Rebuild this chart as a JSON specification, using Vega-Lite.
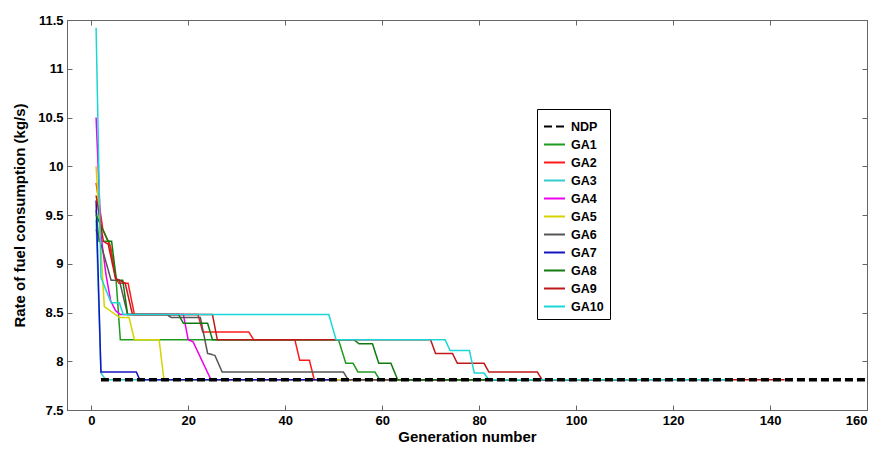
{
  "$schema": "https://vega.github.io/schema/vega-lite/v6.json",
  "autosize": "none",
  "width": 800,
  "height": 390,
  "padding": {"left": 67, "top": 20, "right": 9, "bottom": 41},
  "background": "white",
  "config": {
    "font": "Liberation Sans",
    "view": {"stroke": "#666666", "strokeWidth": 1},
    "axis": {
      "grid": false,
      "domainColor": "#666666",
      "tickColor": "#666666",
      "tickSize": -5,
      "labelFont": "Liberation Sans",
      "labelFontWeight": "bold",
      "labelFontSize": 13,
      "labelColor": "black",
      "titleFont": "Liberation Sans",
      "titleFontWeight": "bold",
      "titleFontSize": 15,
      "titleColor": "black"
    },
    "legend": {
      "orient": "none",
      "legendX": 470,
      "legendY": 89,
      "strokeColor": "black",
      "fillColor": "white",
      "padding": 6,
      "labelFont": "Liberation Sans",
      "labelFontWeight": "bold",
      "labelFontSize": 12.5,
      "labelColor": "black",
      "symbolType": "stroke",
      "symbolSize": 440,
      "symbolStrokeWidth": 2,
      "rowPadding": 0,
      "labelOffset": 5
    }
  },
  "data": {
    "values": [
      {"series": "GA1", "gen": 1, "fuel": 9.55},
      {"series": "GA1", "gen": 1.6, "fuel": 9.23},
      {"series": "GA1", "gen": 3.7, "fuel": 9.23},
      {"series": "GA1", "gen": 5.1, "fuel": 8.85},
      {"series": "GA1", "gen": 6, "fuel": 8.22},
      {"series": "GA1", "gen": 51, "fuel": 8.22},
      {"series": "GA1", "gen": 52.5, "fuel": 7.98},
      {"series": "GA1", "gen": 54, "fuel": 7.98},
      {"series": "GA1", "gen": 55, "fuel": 7.89},
      {"series": "GA1", "gen": 58.5, "fuel": 7.89},
      {"series": "GA1", "gen": 59.5, "fuel": 7.81},
      {"series": "GA1", "gen": 110, "fuel": 7.81},

      {"series": "GA2", "gen": 1, "fuel": 9.83},
      {"series": "GA2", "gen": 2.4, "fuel": 9.35},
      {"series": "GA2", "gen": 4, "fuel": 9.17},
      {"series": "GA2", "gen": 5, "fuel": 8.86},
      {"series": "GA2", "gen": 5.7, "fuel": 8.8},
      {"series": "GA2", "gen": 7.6, "fuel": 8.8},
      {"series": "GA2", "gen": 8.9, "fuel": 8.48},
      {"series": "GA2", "gen": 22, "fuel": 8.48},
      {"series": "GA2", "gen": 23, "fuel": 8.3},
      {"series": "GA2", "gen": 32.5, "fuel": 8.3},
      {"series": "GA2", "gen": 33.5, "fuel": 8.22},
      {"series": "GA2", "gen": 42, "fuel": 8.22},
      {"series": "GA2", "gen": 43, "fuel": 8.01},
      {"series": "GA2", "gen": 45, "fuel": 8.01},
      {"series": "GA2", "gen": 46, "fuel": 7.81},
      {"series": "GA2", "gen": 96, "fuel": 7.81},

      {"series": "GA3", "gen": 1, "fuel": 9.45},
      {"series": "GA3", "gen": 2, "fuel": 7.88},
      {"series": "GA3", "gen": 3, "fuel": 7.81},
      {"series": "GA3", "gen": 53, "fuel": 7.81},

      {"series": "GA4", "gen": 1, "fuel": 10.5},
      {"series": "GA4", "gen": 2, "fuel": 9.3},
      {"series": "GA4", "gen": 3, "fuel": 8.9},
      {"series": "GA4", "gen": 4, "fuel": 8.62},
      {"series": "GA4", "gen": 5, "fuel": 8.52},
      {"series": "GA4", "gen": 6, "fuel": 8.48},
      {"series": "GA4", "gen": 19, "fuel": 8.48},
      {"series": "GA4", "gen": 20, "fuel": 8.22},
      {"series": "GA4", "gen": 21, "fuel": 8.2},
      {"series": "GA4", "gen": 24.7, "fuel": 7.81},
      {"series": "GA4", "gen": 75, "fuel": 7.81},

      {"series": "GA5", "gen": 1, "fuel": 10.0},
      {"series": "GA5", "gen": 2.7, "fuel": 8.56},
      {"series": "GA5", "gen": 5.8, "fuel": 8.45},
      {"series": "GA5", "gen": 7.8, "fuel": 8.45},
      {"series": "GA5", "gen": 8.9, "fuel": 8.22},
      {"series": "GA5", "gen": 14, "fuel": 8.22},
      {"series": "GA5", "gen": 15, "fuel": 7.81},
      {"series": "GA5", "gen": 65, "fuel": 7.81},

      {"series": "GA6", "gen": 1, "fuel": 9.35},
      {"series": "GA6", "gen": 2, "fuel": 9.2},
      {"series": "GA6", "gen": 4.1, "fuel": 8.83},
      {"series": "GA6", "gen": 5.8, "fuel": 8.83},
      {"series": "GA6", "gen": 7.5, "fuel": 8.48},
      {"series": "GA6", "gen": 15.5, "fuel": 8.48},
      {"series": "GA6", "gen": 16.5, "fuel": 8.45},
      {"series": "GA6", "gen": 22.5, "fuel": 8.45},
      {"series": "GA6", "gen": 24, "fuel": 8.08},
      {"series": "GA6", "gen": 25.5, "fuel": 8.06},
      {"series": "GA6", "gen": 27, "fuel": 7.89},
      {"series": "GA6", "gen": 52, "fuel": 7.89},
      {"series": "GA6", "gen": 53, "fuel": 7.81},
      {"series": "GA6", "gen": 103, "fuel": 7.81},

      {"series": "GA7", "gen": 1, "fuel": 9.65},
      {"series": "GA7", "gen": 2, "fuel": 7.89},
      {"series": "GA7", "gen": 9.3, "fuel": 7.89},
      {"series": "GA7", "gen": 10, "fuel": 7.81},
      {"series": "GA7", "gen": 50, "fuel": 7.81},

      {"series": "GA8", "gen": 1, "fuel": 9.5},
      {"series": "GA8", "gen": 3.5, "fuel": 9.23},
      {"series": "GA8", "gen": 4.2, "fuel": 9.23},
      {"series": "GA8", "gen": 5.2, "fuel": 8.83},
      {"series": "GA8", "gen": 6.5, "fuel": 8.83},
      {"series": "GA8", "gen": 7.5, "fuel": 8.48},
      {"series": "GA8", "gen": 18, "fuel": 8.48},
      {"series": "GA8", "gen": 19, "fuel": 8.39},
      {"series": "GA8", "gen": 24, "fuel": 8.39},
      {"series": "GA8", "gen": 25, "fuel": 8.22},
      {"series": "GA8", "gen": 54.2, "fuel": 8.22},
      {"series": "GA8", "gen": 55.2, "fuel": 8.18},
      {"series": "GA8", "gen": 58, "fuel": 8.18},
      {"series": "GA8", "gen": 59.3, "fuel": 7.98},
      {"series": "GA8", "gen": 61.8, "fuel": 7.98},
      {"series": "GA8", "gen": 63.2, "fuel": 7.81},
      {"series": "GA8", "gen": 113, "fuel": 7.81},

      {"series": "GA9", "gen": 1, "fuel": 9.7},
      {"series": "GA9", "gen": 2.5, "fuel": 9.23},
      {"series": "GA9", "gen": 3.5, "fuel": 9.2},
      {"series": "GA9", "gen": 5, "fuel": 8.85},
      {"series": "GA9", "gen": 7, "fuel": 8.8},
      {"series": "GA9", "gen": 8.5, "fuel": 8.48},
      {"series": "GA9", "gen": 25, "fuel": 8.48},
      {"series": "GA9", "gen": 26, "fuel": 8.22},
      {"series": "GA9", "gen": 70, "fuel": 8.22},
      {"series": "GA9", "gen": 71, "fuel": 8.08},
      {"series": "GA9", "gen": 74.5, "fuel": 8.08},
      {"series": "GA9", "gen": 75.5, "fuel": 7.98},
      {"series": "GA9", "gen": 81, "fuel": 7.98},
      {"series": "GA9", "gen": 82, "fuel": 7.89},
      {"series": "GA9", "gen": 92, "fuel": 7.89},
      {"series": "GA9", "gen": 93, "fuel": 7.81},
      {"series": "GA9", "gen": 143, "fuel": 7.81},

      {"series": "GA10", "gen": 1, "fuel": 11.42},
      {"series": "GA10", "gen": 2, "fuel": 8.86},
      {"series": "GA10", "gen": 4.1, "fuel": 8.6},
      {"series": "GA10", "gen": 5.8, "fuel": 8.6},
      {"series": "GA10", "gen": 6.6, "fuel": 8.48},
      {"series": "GA10", "gen": 49, "fuel": 8.48},
      {"series": "GA10", "gen": 50.5, "fuel": 8.22},
      {"series": "GA10", "gen": 73, "fuel": 8.22},
      {"series": "GA10", "gen": 74, "fuel": 8.11},
      {"series": "GA10", "gen": 78, "fuel": 8.11},
      {"series": "GA10", "gen": 79, "fuel": 7.88},
      {"series": "GA10", "gen": 81, "fuel": 7.88},
      {"series": "GA10", "gen": 82, "fuel": 7.81},
      {"series": "GA10", "gen": 132, "fuel": 7.81},

      {"series": "NDP", "gen": 2, "fuel": 7.81},
      {"series": "NDP", "gen": 160, "fuel": 7.81}
    ]
  },
  "layer": [
    {
      "transform": [{"filter": "datum.series != 'NDP'"}],
      "mark": {"type": "line", "strokeWidth": 1.5, "interpolate": "linear"},
      "encoding": {
        "x": {
          "field": "gen", "type": "quantitative",
          "scale": {"domain": [-5, 160], "nice": false, "zero": false},
          "axis": {"title": "Generation number", "values": [0, 20, 40, 60, 80, 100, 120, 140, 160], "labelPadding": 9, "titlePadding": 2}
        },
        "y": {
          "field": "fuel", "type": "quantitative",
          "scale": {"domain": [7.5, 11.5], "nice": false, "zero": false},
          "axis": {"title": "Rate of fuel consumption (kg/s)", "values": [7.5, 8, 8.5, 9, 9.5, 10, 10.5, 11, 11.5], "labelExpr": "'' + datum.value", "labelPadding": 9, "titlePadding": 10}
        },
        "color": {
          "field": "series", "type": "nominal",
          "scale": {
            "domain": ["NDP", "GA1", "GA2", "GA3", "GA4", "GA5", "GA6", "GA7", "GA8", "GA9", "GA10"],
            "range": ["#000000", "#1f9a1f", "#ff1a1a", "#33cccc", "#ee00ee", "#d4d400", "#555555", "#1515c0", "#107a10", "#c01818", "#1ad6d6"]
          },
          "legend": {"title": null}
        },
        "strokeDash": {
          "field": "series", "type": "nominal",
          "scale": {
            "domain": ["NDP", "GA1", "GA2", "GA3", "GA4", "GA5", "GA6", "GA7", "GA8", "GA9", "GA10"],
            "range": [[8, 4], [1, 0], [1, 0], [1, 0], [1, 0], [1, 0], [1, 0], [1, 0], [1, 0], [1, 0], [1, 0]]
          },
          "legend": {"title": null}
        },
        "order": {"field": "gen", "type": "quantitative"}
      }
    },
    {
      "transform": [{"filter": "datum.series == 'NDP'"}],
      "mark": {"type": "line", "strokeWidth": 3.5},
      "encoding": {
        "x": {
          "field": "gen", "type": "quantitative",
          "axis": {"orient": "top", "title": null, "labels": false, "values": [0, 20, 40, 60, 80, 100, 120, 140, 160]}
        },
        "y": {
          "field": "fuel", "type": "quantitative",
          "axis": {"orient": "right", "title": null, "labels": false, "values": [7.5, 8, 8.5, 9, 9.5, 10, 10.5, 11, 11.5]}
        },
        "color": {"field": "series", "type": "nominal", "legend": {"title": null}},
        "strokeDash": {"field": "series", "type": "nominal", "legend": {"title": null}}
      }
    }
  ],
  "resolve": {"axis": {"x": "independent", "y": "independent"}}
}
